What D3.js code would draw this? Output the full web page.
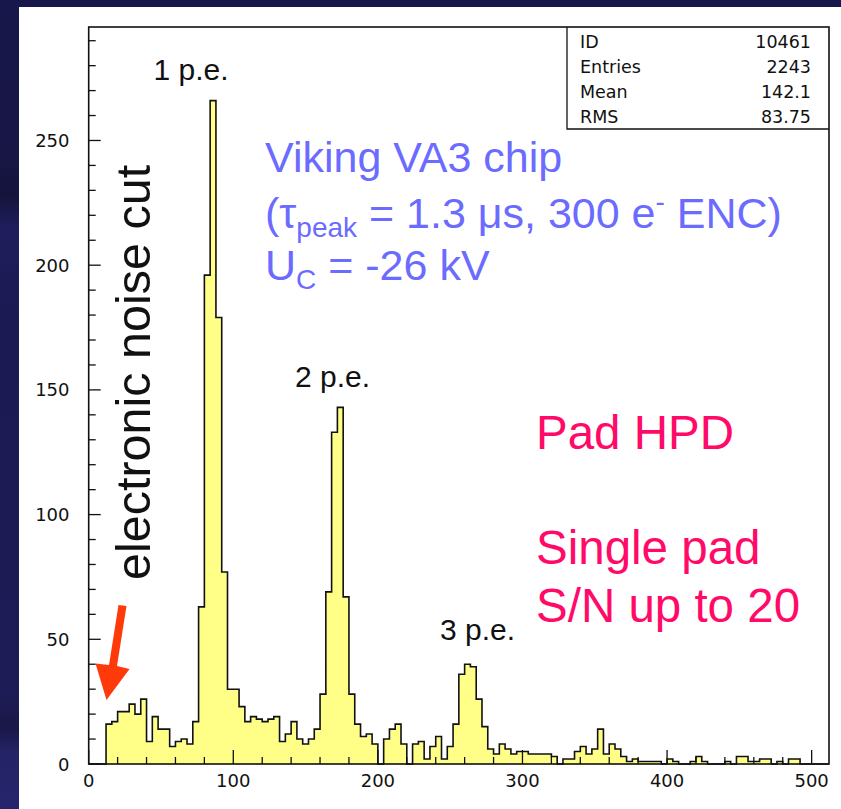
<!DOCTYPE html>
<html>
<head>
<meta charset="utf-8">
<script src="https://cdn.jsdelivr.net/npm/d3@7"></script>
<style>
  html, body { margin: 0; padding: 0; background: #1b1a4c; }
  svg { display: block; }
</style>
</head>
<body>
<svg id="chart" width="841" height="809"></svg>
<script>
// Pulse-height spectrum of a single pad, 4-channel bins from 0 to 512
const binWidth = 4;
const binCounts = [
  0, 0, 0, 16, 17, 21, 21, 24, 20, 26, 9, 19, 14, 14, 7, 9,
  10, 8, 17, 63, 196, 266, 179, 77, 30, 30, 23, 17, 19, 18, 17, 18,
  19, 9, 12, 17, 10, 8, 10, 14, 28, 69, 133, 143, 67, 28, 16, 11,
  12, 8, 0, 10, 14, 16, 8, 0, 8, 9, 2, 7, 11, 2, 7, 16,
  36, 40, 39, 26, 15, 6, 4, 8, 6, 4, 5, 5, 4, 4, 4, 4,
  3, 0, 2, 2, 5, 7, 4, 6, 14, 4, 8, 6, 3, 1, 2, 1,
  1, 1, 1, 0, 2, 1, 0, 0, 1, 3, 1, 0, 0, 0, 1, 0,
  3, 3, 1, 1, 2, 2, 0, 1, 0, 2, 2, 0, 0, 0, 0, 0
];
const xTickValues = [0, 100, 200, 300, 400, 500];
const yTickValues = [0, 50, 100, 150, 200, 250];
const xMinorStep = 20;
const yMinorStep = 10;

const statLabels = ["ID", "Entries", "Mean", "RMS"];
const statValues = ["10461", "2243", "142.1", "83.75"];

const peakLabels = ["1 p.e.", "2 p.e.", "3 p.e."];
const padLines = ["Pad HPD", "", "Single pad", "S/N up to 20"];

const svg = d3.select("#chart");
const W = 841, H = 809;

// Backdrop: dark blue slide with a white sheet
const defs = svg.append("defs");
const bg = defs.append("linearGradient").attr("id", "bgGrad")
  .attr("x1", 0).attr("y1", 0).attr("x2", 0).attr("y2", 1);
[["0%", "#18174b"], ["20%", "#171645"], ["24%", "#14133a"], ["28%", "#1f1d5c"],
 ["40%", "#1c1a52"], ["85%", "#1e1c56"], ["90%", "#1a1848"], ["93%", "#242366"], ["100%", "#26256c"]]
  .forEach(([o, c]) => bg.append("stop").attr("offset", o).attr("stop-color", c));
svg.append("rect").attr("width", W).attr("height", H).attr("fill", "url(#bgGrad)");
svg.append("rect").attr("x", 19).attr("y", 7).attr("width", W - 19).attr("height", H - 7).attr("fill", "#ffffff");

// Scales
const x = d3.scaleLinear().domain([0, 512]).range([88.7, 829]);
const y = d3.scaleLinear().domain([0, 295.5]).range([764, 27]);

// Histogram
const edges = binCounts.map((c, i) => ({ e: i * binWidth, c }));
edges.push({ e: binCounts.length * binWidth, c: binCounts[binCounts.length - 1] });

const area = d3.area()
  .x(d => x(d.e)).y0(y(0)).y1(d => y(d.c))
  .curve(d3.curveStepAfter);
const line = d3.line()
  .x(d => x(d.e)).y(d => y(d.c))
  .curve(d3.curveStepAfter);

svg.append("path").datum(edges).attr("d", area).attr("fill", "#ffff88");
svg.append("path").datum(edges).attr("d", line)
  .attr("fill", "none").attr("stroke", "#111").attr("stroke-width", 1.6)
  .attr("stroke-linejoin", "miter");

// Frame
svg.append("rect")
  .attr("x", x(0)).attr("y", y(295.5))
  .attr("width", x(512) - x(0)).attr("height", y(0) - y(295.5))
  .attr("fill", "none").attr("stroke", "#111").attr("stroke-width", 1.6);

// Axes: ticks point into the plot
const tickFont = "'DejaVu Sans', sans-serif";
const xAxis = svg.append("g");
d3.range(0, 512, xMinorStep).forEach(v => {
  const major = v % 100 === 0;
  xAxis.append("line")
    .attr("x1", x(v)).attr("x2", x(v))
    .attr("y1", y(0)).attr("y2", y(0) - (major ? 14 : 7))
    .attr("stroke", "#111").attr("stroke-width", 1.3);
});
xAxis.selectAll("text").data(xTickValues).join("text")
  .attr("x", d => x(d)).attr("y", y(0) + 23)
  .attr("text-anchor", "middle")
  .attr("font-family", tickFont).attr("font-size", 18).attr("fill", "#111")
  .text(d => d);

const yAxis = svg.append("g");
d3.range(0, 295, yMinorStep).forEach(v => {
  const major = v % 50 === 0;
  yAxis.append("line")
    .attr("x1", x(0)).attr("x2", x(0) + (major ? 12 : 7))
    .attr("y1", y(v)).attr("y2", y(v))
    .attr("stroke", "#111").attr("stroke-width", 1.3);
});
yAxis.selectAll("text").data(yTickValues).join("text")
  .attr("x", 69.5).attr("y", d => y(d) + 6.5)
  .attr("text-anchor", "end")
  .attr("font-family", tickFont).attr("font-size", 18).attr("fill", "#111")
  .text(d => d);

// Statistics box
const boxLeft = 567, boxBottom = 129;
svg.append("path")
  .attr("d", `M${boxLeft},${y(295.5)}V${boxBottom}H${x(512)}`)
  .attr("fill", "none").attr("stroke", "#111").attr("stroke-width", 1.3);
const stats = svg.append("g")
  .attr("font-family", tickFont).attr("font-size", 17.5).attr("fill", "#111");
statLabels.forEach((s, i) => {
  stats.append("text").attr("x", 580).attr("y", 47.5 + i * 25).text(s);
  stats.append("text").attr("x", 811).attr("y", 47.5 + i * 25)
    .attr("text-anchor", "end").text(statValues[i]);
});

// Peak labels
const arial = "'Liberation Sans', Arial, sans-serif";
const peakPos = [[153.5, 80], [295, 387], [440, 640]];
svg.append("g").selectAll("text").data(peakLabels).join("text")
  .attr("x", (d, i) => peakPos[i][0]).attr("y", (d, i) => peakPos[i][1])
  .attr("font-family", arial).attr("font-size", 30).attr("fill", "#111")
  .text(d => d);

// Readout chip annotation
const chip = svg.append("g")
  .attr("font-family", arial).attr("font-size", 43).attr("fill", "#6b6bff");
chip.append("text").attr("x", 265).attr("y", 172).text("Viking VA3 chip");
const l2 = chip.append("text").attr("x", 265).attr("y", 228);
l2.append("tspan").text("(τ");
l2.append("tspan").attr("font-size", 28).attr("dy", 9).text("peak");
l2.append("tspan").attr("dy", -9).text(" = 1.3 μs, 300 e");
l2.append("tspan").attr("font-size", 28).attr("dy", -17).text("-");
l2.append("tspan").attr("dy", 17).text(" ENC)");
const l3 = chip.append("text").attr("x", 265).attr("y", 280);
l3.append("tspan").text("U");
l3.append("tspan").attr("font-size", 28).attr("dy", 9).text("C");
l3.append("tspan").attr("dy", -9).text(" = -26 kV");

// Detector annotation
svg.append("g").attr("font-family", arial).attr("font-size", 47.5).attr("fill", "#ff0a68")
  .selectAll("text").data(padLines).join("text")
  .attr("x", 536).attr("y", (d, i) => 449 + i * 57.5)
  .text(d => d);

// Noise cut label and arrow
svg.append("text")
  .attr("transform", "translate(150,580) rotate(-90)")
  .attr("font-family", arial).attr("font-size", 48.5).attr("fill", "#111")
  .text("electronic noise cut");

const arrowPts = [[118.5, 605], [126.5, 606], [117, 666], [129.5, 669], [106.5, 700], [95.5, 663.5], [109, 665]];
svg.append("path")
  .attr("d", d3.line()(arrowPts) + "Z")
  .attr("fill", "#ff3a0a");
</script>
</body>
</html>
